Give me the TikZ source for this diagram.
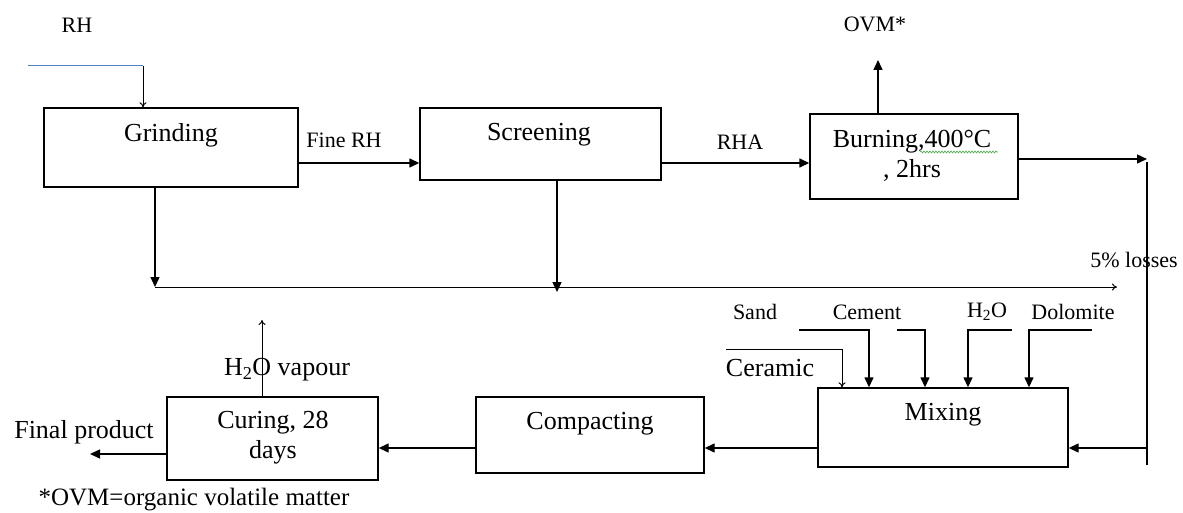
\documentclass[tikz,border=0pt]{standalone}
\usepackage{fontspec}
\setmainfont{Liberation Serif}
\usetikzlibrary{arrows.meta,decorations.pathmorphing}
\definecolor{rh-blue}{RGB}{79,129,189}
\definecolor{spell-green}{RGB}{70,175,70}

\begin{document}
\begin{tikzpicture}[x=1pt,y=-1pt,
    unit/.style={draw,line width=1.4pt,inner sep=0pt},
    boxtext/.style={font=\fontsize{26}{30}\selectfont,inner sep=0pt,align=center},
    tag/.style={font=\fontsize{22}{26}\selectfont,inner sep=0pt},
    flow/.style={line width=1.4pt,-{Triangle[length=10pt,width=9pt]}},
    feed/.style={line width=1pt,-{To[length=5pt,width=7pt]}},
    plain/.style={line width=1.4pt}]
    \useasboundingbox (0,0) rectangle (1183,513);

    \node[unit,minimum width=254pt,minimum height=79pt] (grind) at (171,147.5) {};
    \node[unit,minimum width=241pt,minimum height=72pt] (screen) at (540.5,144) {};
    \node[unit,minimum width=208pt,minimum height=85pt] (burn) at (914,156.5) {};
    \node[unit,minimum width=250pt,minimum height=79pt] (mix) at (943,427.5) {};
    \node[unit,minimum width=228pt,minimum height=76pt] (comp) at (590,435) {};
    \node[unit,minimum width=211pt,minimum height=83pt] (cure) at (272.5,438.5) {};

    \node[boxtext] (grindtxt) at (171,135) {Grinding};
    \node[boxtext] (screentxt) at (539,135) {Screening};
    \node[boxtext] (burntxt) at (912,156) {Burning,400°C\\, 2hrs};
    \node[boxtext] (mixtxt) at (943,415) {Mixing};
    \node[boxtext] (comptxt) at (590,424) {Compacting};
    \node[boxtext] (curetxt) at (273,438) {Curing, 28\\days};
    \draw[spell-green,line width=0.6pt,decorate,decoration={snake,amplitude=1pt,segment length=3pt}]
        (920,152) -- (998,152);

    \node[tag] (rh) at (77,25) {RH};
    \node[tag] (fine) at (344,140) {Fine RH};
    \node[tag] (rha) at (740,142) {RHA};
    \node[tag] (ovmtxt) at (875,24) {OVM*};
    \node[tag] (losses) at (1134,260) {5\%~losses};
    \node[tag] (sand) at (755,312) {Sand};
    \node[tag] (cement) at (867,312) {Cement};
    \node[tag] (water) at (987,312) {H\textsubscript{2}O};
    \node[tag] (dolo) at (1073,312) {Dolomite};
    \node[boxtext] (ceramic) at (770,368) {Ceramic};
    \node[boxtext] (vapourtxt) at (287,370) {H\textsubscript{2}O vapour};
    \node[boxtext] (product) at (84,432) {Final product};
    \node[font=\fontsize{25}{29}\selectfont,inner sep=0pt] (note) at (194,500) {*OVM=organic volatile matter};

    \coordinate (rhstart) at (28,66);
    \coordinate (rhbend) at (143,66);
    \draw[rh-blue,line width=1pt] (rhstart) -- (rhbend);
    \draw[feed] (rhbend) -- (rhbend |- grind.north);

    \coordinate (rowA) at (0,163);
    \draw[flow] (grind.east |- rowA) -- (screen.west |- rowA);
    \draw[flow] (screen.east |- rowA) -- (burn.west |- rowA);

    \coordinate (ovm) at (878,60);
    \draw[flow] (ovm |- burn.north) -- (ovm);

    \coordinate (losstop) at (1147,159);
    \coordinate (lossbot) at (1147,465);
    \draw[flow] (burn.east |- losstop) -- (losstop);
    \draw[plain] ([yshift=-3pt]losstop) -- (lossbot);

    \coordinate (wastestart) at (155,287);
    \coordinate (wasteend) at (1117,287);
    \coordinate (screendrop) at (557,292);
    \draw[flow] (grind.south -| wastestart) -- (wastestart);
    \draw[flow] (screen.south -| screendrop) -- (screendrop);
    \draw[feed] (wastestart) -- (wasteend);

    \coordinate (ceramicin) at (726,349);
    \coordinate (ceramicbend) at (842,349);
    \draw[feed] (ceramicin) -- (ceramicbend) -- (ceramicbend |- mix.north);
    \coordinate (sandin) at (799,330);
    \coordinate (sandbend) at (869,330);
    \draw[flow] (sandin) -- (sandbend) -- (sandbend |- mix.north);
    \coordinate (cementin) at (897,330);
    \coordinate (cementbend) at (925,330);
    \draw[flow] (cementin) -- (cementbend) -- (cementbend |- mix.north);
    \coordinate (waterin) at (1012,330);
    \coordinate (waterbend) at (968,330);
    \draw[flow] (waterin) -- (waterbend) -- (waterbend |- mix.north);
    \coordinate (doloin) at (1092,330);
    \coordinate (dolobend) at (1029,330);
    \draw[flow] (doloin) -- (dolobend) -- (dolobend |- mix.north);

    \coordinate (mixin) at (1147,448);
    \draw[flow] (mixin) -- (mix.east |- mixin);
    \draw[flow] (mix.west |- mixin) -- (comp.east |- mixin);
    \draw[flow] (comp.west |- mixin) -- (cure.east |- mixin);

    \coordinate (productout) at (90,454);
    \draw[flow] (cure.west |- productout) -- (productout);
    \coordinate (vapour) at (262,320);
    \draw[feed] (vapour |- cure.north) -- (vapour);
\end{tikzpicture}
\end{document}
